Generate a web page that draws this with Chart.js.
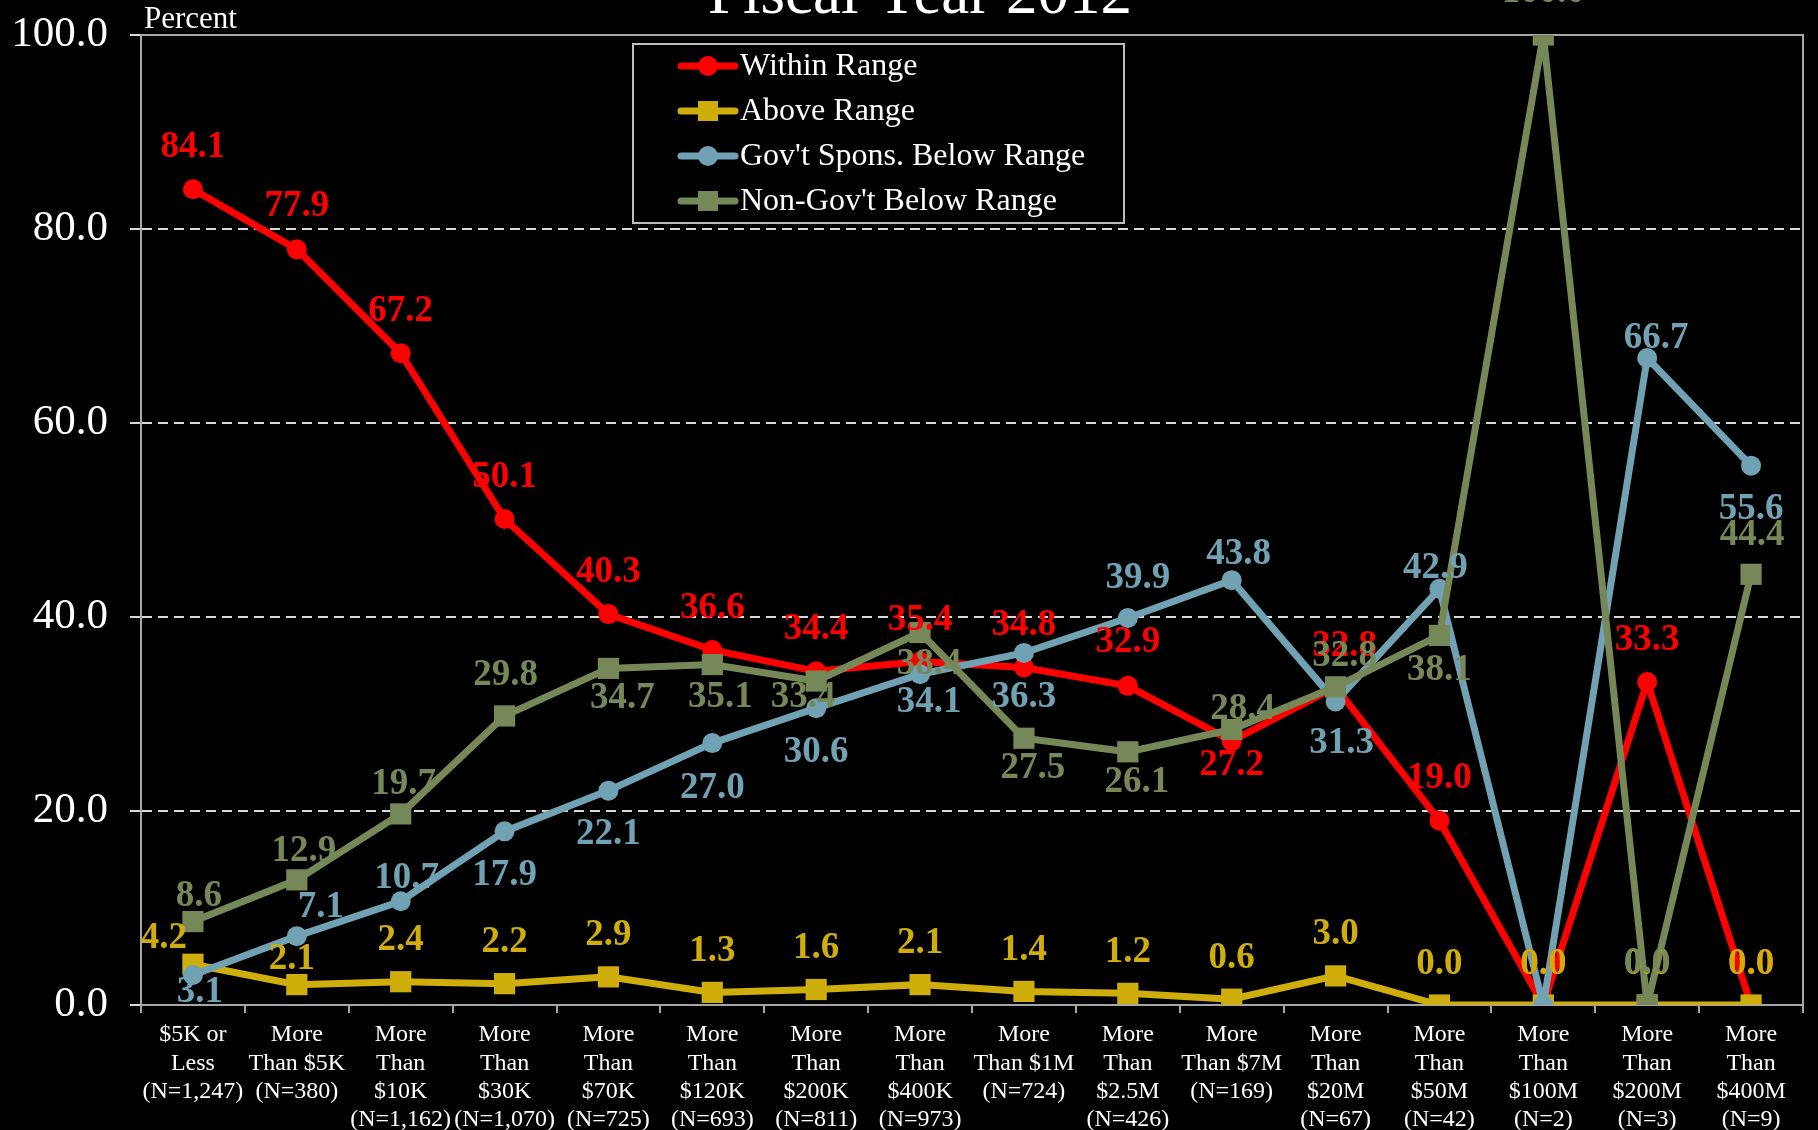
<!DOCTYPE html>
<html>
<head>
<meta charset="utf-8">
<script src="https://cdn.jsdelivr.net/npm/chart.js@4.4.1/dist/chart.umd.min.js"></script>
<style>
  body { margin: 0; background: #000; overflow: hidden; }
  canvas { display: block; }
</style>
</head>
<body>
<canvas id="Plot" width="1818" height="1130"></canvas>
<script>
var categories = [
  ["$5K or", "Less", "(N=1,247)"],
  ["More", "Than $5K", "(N=380)"],
  ["More", "Than", "$10K", "(N=1,162)"],
  ["More", "Than", "$30K", "(N=1,070)"],
  ["More", "Than", "$70K", "(N=725)"],
  ["More", "Than", "$120K", "(N=693)"],
  ["More", "Than", "$200K", "(N=811)"],
  ["More", "Than", "$400K", "(N=973)"],
  ["More", "Than $1M", "(N=724)"],
  ["More", "Than", "$2.5M", "(N=426)"],
  ["More", "Than $7M", "(N=169)"],
  ["More", "Than", "$20M", "(N=67)"],
  ["More", "Than", "$50M", "(N=42)"],
  ["More", "Than", "$100M", "(N=2)"],
  ["More", "Than", "$200M", "(N=3)"],
  ["More", "Than", "$400M", "(N=9)"]
];

var withinRange = [84.1, 77.9, 67.2, 50.1, 40.3, 36.6, 34.4, 35.4, 34.8, 32.9, 27.2, 32.8, 19.0, 0.0, 33.3, 0.0];
var aboveRange  = [4.2, 2.1, 2.4, 2.2, 2.9, 1.3, 1.6, 2.1, 1.4, 1.2, 0.6, 3.0, 0.0, 0.0, 0.0, 0.0];
var govBelow    = [3.1, 7.1, 10.7, 17.9, 22.1, 27.0, 30.6, 34.1, 36.3, 39.9, 43.8, 31.3, 42.9, 0.0, 66.7, 55.6];
var nonGovBelow = [8.6, 12.9, 19.7, 29.8, 34.7, 35.1, 33.4, 38.4, 27.5, 26.1, 28.4, 32.8, 38.1, 100.0, 0.0, 44.4];

var yTicks = [0, 20, 40, 60, 80, 100];

// where each value label sits relative to its point [dx, dy], null = not shown
var labelOffsets = [
  [[0,-42],[0,-43],[0,-42],[0,-42],[0,-42],[0,-42],[0,-42],[0,-41],[0,-42],[0,-43],[0,24],[9,-40],[0,-42],[0,-41],[0,-42],[0,-41]],
  [[-29,-26],[-5,-25],[0,-41],[0,-41],[0,-41],[0,-41],[0,-41],[0,-41],[0,-41],[0,-41],[0,-41],[0,-41],[0,-41],[0,-41],[0,-41],[0,-41]],
  [[7,18],[24,-29],[6,-23],[0,44],[0,44],[0,45],[0,44],[9,28],[0,45],[10,-40],[7,-26],[6,42],[-4,-20],null,[9,-20],[0,44]],
  [[6,-25],[7,-28],[3,-29],[1,-41],[14,30],[8,33],[-13,16],[9,32],[9,30],[9,31],[11,-20],[9,-30],[0,35],[0,-43],[0,-42],[1,-39]]
];

var SERIF = "'Liberation Serif', 'Times New Roman', serif";
var RED = '#ff0000', GOLD = '#cfae0c', BLUE = '#70a2b4', OLIVE = '#778858';

/* background, plot frame, title, axis caption, legend, value labels */
var decor = {
  id: 'decor',
  beforeDraw: function(chart) {
    var c = chart.ctx;
    c.save();
    c.fillStyle = '#000';
    c.fillRect(0, 0, chart.width, chart.height);
    c.restore();
  },
  beforeDatasetsDraw: function(chart) {
    var c = chart.ctx, a = chart.chartArea;
    c.save();
    c.strokeStyle = '#a6a6a6';
    c.lineWidth = 2;
    c.strokeRect(a.left, a.top, a.right - a.left, a.bottom - a.top);
    c.restore();
  },
  afterDatasetsDraw: function(chart) {
    var c = chart.ctx;
    c.save();
    c.font = 'bold 37px ' + SERIF;
    c.textAlign = 'center';
    c.textBaseline = 'middle';
    chart.data.datasets.forEach(function(ds, di) {
      var meta = chart.getDatasetMeta(di);
      c.fillStyle = ds.borderColor;
      meta.data.forEach(function(pt, i) {
        var off = labelOffsets[di][i];
        if (!off) return;
        c.fillText(ds.data[i].toFixed(1), pt.x + off[0], pt.y + off[1]);
      });
    });
    c.restore();
  },
  afterDraw: function(chart) {
    var c = chart.ctx;
    c.save();
    c.fillStyle = '#fff';
    c.textBaseline = 'alphabetic';
    c.textAlign = 'center';
    c.font = '63px ' + SERIF;
    c.fillText('Fiscal Year 2012', 920, 13);
    c.textAlign = 'left';
    c.font = '31px ' + SERIF;
    c.fillText('Percent', 144, 28);

    // legend
    c.strokeStyle = '#bdbdbd';
    c.lineWidth = 2;
    c.strokeRect(633, 44, 491, 179);
    c.font = '32px ' + SERIF;
    c.textBaseline = 'middle';
    chart.data.datasets.forEach(function(ds, di) {
      var y = 66 + di * 45;
      c.strokeStyle = ds.borderColor;
      c.lineWidth = 7;
      c.lineCap = 'round';
      c.beginPath();
      c.moveTo(681, y);
      c.lineTo(735, y);
      c.stroke();
      c.fillStyle = ds.borderColor;
      if (ds.pointStyle === 'circle') {
        c.beginPath();
        c.arc(708, y, 10, 0, Math.PI * 2);
        c.fill();
      } else {
        c.fillRect(698, y - 10, 20, 20);
      }
      c.fillStyle = '#fff';
      c.fillText(ds.label, 740, y + 1);
    });
    c.restore();
  }
};

function series(label, data, color, style, order) {
  return {
    label: label,
    data: data,
    borderColor: color,
    backgroundColor: color,
    borderWidth: 7,
    pointStyle: style,
    pointRadius: style === 'circle' ? 10 : 15,
    pointBorderWidth: 0,
    pointHoverRadius: style === 'circle' ? 10 : 15,
    tension: 0,
    order: order
  };
}

var ctx = document.getElementById('Plot').getContext('2d');
var myChart = new Chart(ctx, {
  type: 'line',
  data: {
    labels: categories,
    datasets: [
      series('Within Range', withinRange, RED, 'circle', 4),
      series('Above Range', aboveRange, GOLD, 'rect', 3),
      series("Gov't Spons. Below Range", govBelow, BLUE, 'circle', 2),
      series("Non-Gov't Below Range", nonGovBelow, OLIVE, 'rect', 1)
    ]
  },
  options: {
    responsive: false,
    animation: false,
    events: [],
    layout: { padding: { top: 35, right: 0, left: 0, bottom: 0 } },
    plugins: {
      legend: { display: false },
      title: { display: false },
      tooltip: { enabled: false }
    },
    scales: {
      x: {
        offset: true,
        grid: {
          offset: true,
          drawOnChartArea: false,
          drawTicks: true,
          tickLength: 8,
          color: '#a6a6a6',
          lineWidth: 2
        },
        border: { display: true, color: '#a6a6a6', width: 2 },
        ticks: {
          color: '#fff',
          font: { family: SERIF, size: 24, lineHeight: 1.18 },
          maxRotation: 0,
          autoSkip: false,
          padding: 8
        },
        afterFit: function(scale) {
          scale.height = 125;
          scale.paddingLeft = 0;
          scale.paddingRight = 0;
        }
      },
      y: {
        min: 0,
        max: 100,
        afterBuildTicks: function(scale) {
          scale.ticks = yTicks.map(function(v) { return { value: v }; });
        },
        grid: {
          color: '#d9d9d9',
          lineWidth: 2,
          tickLength: 11,
          drawTicks: true
        },
        border: { display: true, color: '#a6a6a6', width: 2, dash: [10, 6] },
        ticks: {
          color: '#fff',
          font: { family: SERIF, size: 43 },
          padding: 22,
          callback: function(v) { return Number(v).toFixed(1); }
        },
        afterFit: function(scale) {
          scale.width = 141;
          scale.paddingTop = 0;
          scale.paddingBottom = 0;
        }
      }
    }
  },
  plugins: [decor]
});
</script>
</body>
</html>
